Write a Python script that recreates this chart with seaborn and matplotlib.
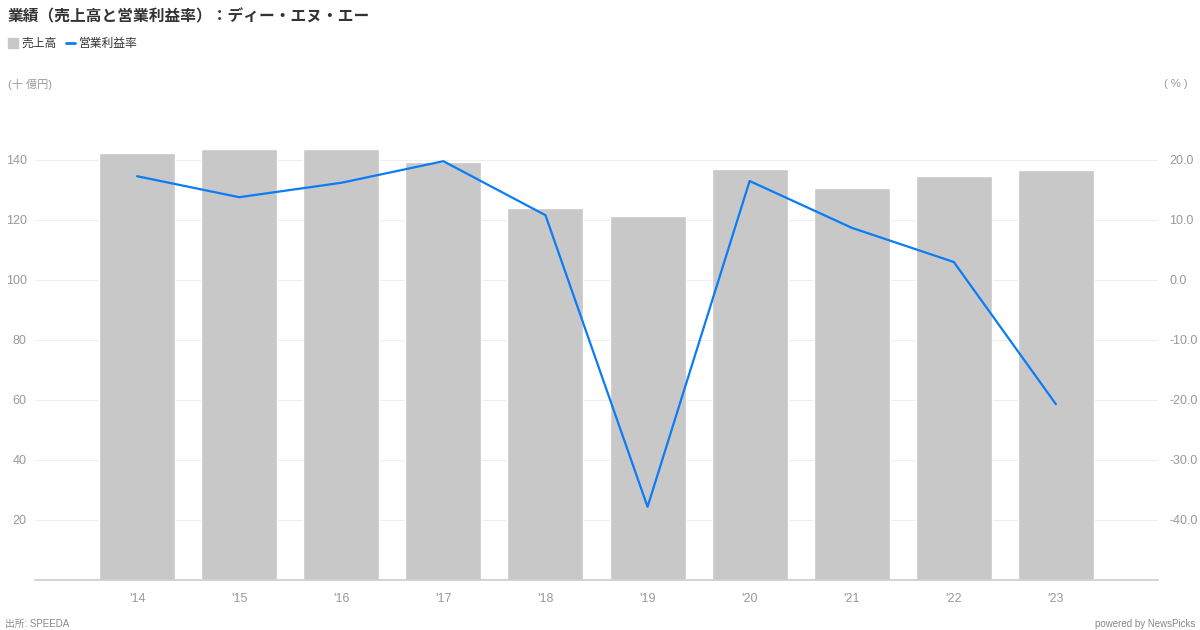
import numpy as np
import pandas as pd
import seaborn as sns
import matplotlib.pyplot as plt
from matplotlib.lines import Line2D

# data
years = ["'14", "'15", "'16", "'17", "'18", "'19", "'20", "'21", "'22", "'23"]
sales = [142.3, 143.7, 143.8, 139.3, 124.0, 121.3, 137.0, 130.8, 134.8, 136.7]
margin = [17.3, 13.8, 16.2, 19.8, 10.8, -37.8, 16.5, 8.7, 3.0, -20.7]

left_ticks = [20, 40, 60, 80, 100, 120, 140]
right_ticks = [-40, -30, -20, -10, 0, 10, 20]

df = pd.DataFrame({'year': years, 'sales': sales, 'margin': margin})

sns.set_theme(style='white')
plt.rcParams['font.family'] = ['Liberation Sans', 'Noto Sans CJK JP']

bar_color = '#c8c8c8'
line_color = '#0a7cf5'
tick_color = '#999999'

fig = plt.figure(figsize=(12, 6.3), dpi=100)
ax = fig.add_axes([35 / 1200, 50 / 630, 1123 / 1200, 465 / 630])

sns.barplot(data=df, x='year', y='sales', color=bar_color, width=0.745,
            saturation=1, ax=ax, zorder=2)
ax.set_ylim(0, 155)
ax.set_yticks(left_ticks)
ax.set_yticklabels([str(t) for t in left_ticks])
ax.grid(axis='y', color='#eeeeee', linewidth=0.8, zorder=0)
ax.set_axisbelow(True)
ax.set_xlabel('')
ax.set_ylabel('')
for s in ['top', 'right', 'left']:
    ax.spines[s].set_visible(False)
ax.spines['bottom'].set_color('#cccccc')
ax.spines['bottom'].set_linewidth(1.2)
ax.tick_params(axis='both', length=0, labelsize=9, colors=tick_color)
ax.tick_params(axis='x', pad=9)
ax.tick_params(axis='y', pad=6)

ax2 = ax.twinx()
sns.lineplot(x=np.arange(len(years)), y=df['margin'], color=line_color,
             linewidth=1.6, ax=ax2)
ax2.set_ylim(-50, 27.5)
ax2.set_yticks(right_ticks)
ax2.set_yticklabels([f'{t:.1f}' for t in right_ticks])
ax2.set_ylabel('')
for s in ['top', 'right', 'left', 'bottom']:
    ax2.spines[s].set_visible(False)
ax2.tick_params(axis='y', length=0, labelsize=9, colors=tick_color, pad=8)
ax.set_xlim(-1, 10)

# title, legend, units, footer
fig.text(8 / 1200, 1 - 16 / 630, '業績（売上高と営業利益率）：ディー・エヌ・エー',
         fontsize=11.3, fontweight='bold', color='#333333', va='center',
         family='Noto Sans CJK JP')
handles = [
    Line2D([], [], marker='s', linestyle='none', color=bar_color, markersize=7),
    Line2D([], [], color=line_color, linewidth=2),
]
fig.legend(handles, ['売上高', '営業利益率'], loc='center left',
           bbox_to_anchor=(0, 1 - 44 / 630), frameon=False, fontsize=8.5,
           handlelength=0.8, handletextpad=0.3, columnspacing=0.8, ncol=2,
           borderaxespad=0.3, labelcolor='#333333')
fig.text(8 / 1200, 1 - 84 / 630, '(十 億円)', fontsize=8, color=tick_color,
         va='center')
fig.text(1188 / 1200, 1 - 84 / 630, '( % )', fontsize=8, color=tick_color,
         va='center', ha='right')
fig.text(5 / 1200, 1 - 624 / 630, '出所: SPEEDA', fontsize=7, color='#888888',
         va='center')
fig.text(1195 / 1200, 1 - 624 / 630, 'powered by NewsPicks', fontsize=7,
         color='#888888', va='center', ha='right')

fig.savefig('out.png', dpi=100)
